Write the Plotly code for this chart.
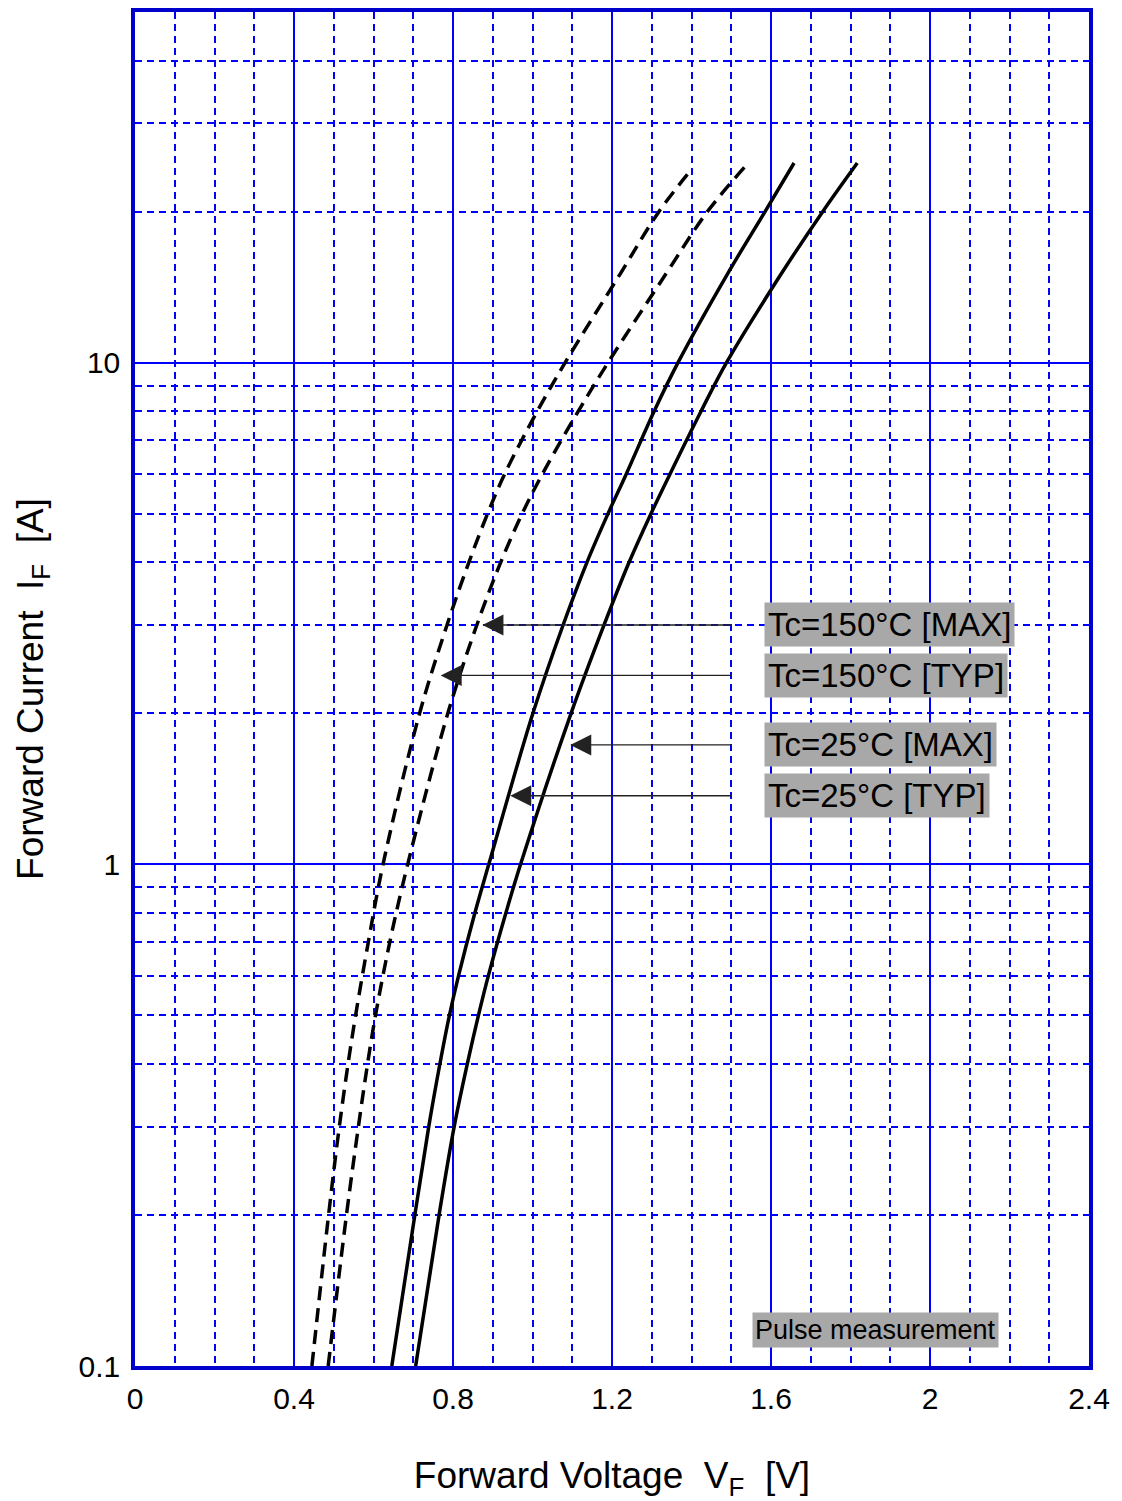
import math
import plotly.graph_objects as go

# ---------------- data ----------------
# Tc = 25 C, typical (solid, left)
i_25_typ = [0.1, 0.2, 0.3, 0.4, 0.5, 0.6, 0.8, 1, 2, 3, 4, 5, 6, 8, 10, 15, 20, 25]
v_25_typ = [0.646, 0.704, 0.739, 0.767, 0.791, 0.814, 0.855, 0.890, 1.001, 1.077, 1.137, 1.190, 1.236, 1.306, 1.366, 1.490, 1.585, 1.658]
# Tc = 25 C, max (solid, right)
i_25_max = [0.1, 0.2, 0.3, 0.4, 0.5, 0.6, 0.8, 1, 2, 3, 4, 5, 6, 8, 10, 15, 20, 25]
v_25_max = [0.706, 0.765, 0.803, 0.836, 0.864, 0.889, 0.933, 0.970, 1.097, 1.180, 1.243, 1.298, 1.346, 1.424, 1.488, 1.625, 1.730, 1.817]
# Tc = 150 C, typical (dashed, left)
i_150_typ = [0.1, 0.2, 0.3, 0.4, 0.5, 0.7, 1, 2, 3, 4, 5, 6, 8, 10, 15, 20, 24]
v_150_typ = [0.445, 0.487, 0.514, 0.536, 0.555, 0.587, 0.624, 0.716, 0.785, 0.840, 0.887, 0.930, 1.012, 1.082, 1.220, 1.318, 1.395]
# Tc = 150 C, max (dashed, right)
i_150_max = [0.1, 0.2, 0.3, 0.4, 0.5, 0.7, 1, 2, 3, 4, 5, 6, 8, 10, 15, 20, 24.5]
v_150_max = [0.486, 0.532, 0.562, 0.585, 0.605, 0.641, 0.686, 0.787, 0.860, 0.920, 0.974, 1.025, 1.115, 1.190, 1.335, 1.440, 1.533]

# labels and arrows
label_texts = ["Tc=150°C [MAX]", "Tc=150°C [TYP]", "Tc=25°C [MAX]", "Tc=25°C [TYP]"]
arrow_tip_v = [0.874, 0.769, 1.095, 0.944]
arrow_i = [3.0, 2.38, 1.73, 1.37]
arrow_tail_v = 1.503
label_v = 1.583
note_text = "Pulse measurement"
note_v = 1.864
note_i = 0.1177

x_tickvals = [0, 0.4, 0.8, 1.2, 1.6, 2.0, 2.4]
x_ticktext = ["0", "0.4", "0.8", "1.2", "1.6", "2", "2.4"]
x_minor = [0.1, 0.2, 0.3, 0.5, 0.6, 0.7, 0.9, 1.0, 1.1, 1.3, 1.4, 1.5, 1.7, 1.8, 1.9, 2.1, 2.2, 2.3]
y_tickvals = [0.1, 1, 10]
y_ticktext = ["0.1", "1", "10"]
y_minor = [0.2, 0.3, 0.4, 0.5, 0.6, 0.7, 0.8, 0.9, 2, 3, 4, 5, 6, 7, 8, 9, 20, 30, 40]

FONT = "Liberation Sans, Arial, sans-serif"
BLUE = "#0000FF"
MINOR = "#0000FF"
FRAME = "#0000CC"

fig = go.Figure()
curve_w = 3.5
dash_style = "14px,8px"
for vs, cs, dashed in [(v_150_typ, i_150_typ, True), (v_150_max, i_150_max, True),
                       (v_25_typ, i_25_typ, False), (v_25_max, i_25_max, False)]:
    fig.add_trace(go.Scatter(x=vs, y=cs, mode="lines",
                             line=dict(color="black", width=curve_w,
                                       dash=dash_style if dashed else "solid",
                                       shape="spline", smoothing=1.0),
                             showlegend=False, hoverinfo="skip"))

for txt, tip, iv in zip(label_texts, arrow_tip_v, arrow_i):
    fig.add_annotation(x=tip, y=math.log10(iv), ax=arrow_tail_v, ay=math.log10(iv),
                       xref="x", yref="y", axref="x", ayref="y", text="", showarrow=True,
                       arrowhead=2, arrowsize=3, arrowwidth=1.4, arrowcolor="#222222")
    fig.add_annotation(x=label_v, y=math.log10(iv), xref="x", yref="y", text=txt,
                       showarrow=False, xanchor="left", yanchor="middle",
                       font=dict(family=FONT, size=33, color="black"), bgcolor="#A8A8A8", borderpad=3)

fig.add_annotation(x=note_v, y=math.log10(note_i), xref="x", yref="y", text=note_text,
                   showarrow=False, xanchor="center", yanchor="middle",
                   font=dict(family=FONT, size=27, color="black"), bgcolor="#A8A8A8", borderpad=2)

fig.update_xaxes(range=[0, 2.4], tickvals=x_tickvals, ticktext=x_ticktext,
                 showgrid=True, gridcolor=BLUE, gridwidth=1.5,
                 minor=dict(tickmode="array", tickvals=x_minor, showgrid=True, gridcolor=MINOR,
                            gridwidth=1.6, griddash="7px,5px", ticklen=0),
                 showline=True, linecolor=FRAME, linewidth=3.5, mirror=True, zeroline=False,
                 ticks="", ticklabelstandoff=3,
                 tickfont=dict(family=FONT, size=30, color="black"),
                 title=dict(text="Forward Voltage\u00a0\u00a0V<sub>F</sub>\u00a0\u00a0[V]",
                            font=dict(family=FONT, size=37, color="black"), standoff=50))
fig.update_yaxes(type="log", range=[-1, 1.69897], tickvals=y_tickvals, ticktext=y_ticktext,
                 showgrid=True, gridcolor=BLUE, gridwidth=1.5,
                 minor=dict(tickmode="array", tickvals=y_minor, showgrid=True, gridcolor=MINOR,
                            gridwidth=1.6, griddash="7px,5px", ticklen=0),
                 showline=True, linecolor=FRAME, linewidth=3.5, mirror=True, zeroline=False,
                 ticks="", ticklabelstandoff=5,
                 tickfont=dict(family=FONT, size=30, color="black"),
                 title=dict(text="Forward Current\u00a0\u00a0I<sub>F</sub>\u00a0\u00a0[A]",
                            font=dict(family=FONT, size=37, color="black"), standoff=25))

fig.update_layout(width=1114, height=1493, margin=dict(l=127, r=33, t=0, b=135),
                  paper_bgcolor="white", plot_bgcolor="white", showlegend=False)

fig.write_html("out.html")
